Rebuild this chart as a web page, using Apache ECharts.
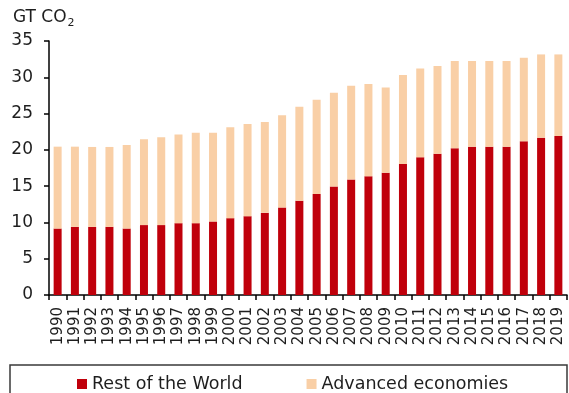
<!DOCTYPE html>
<html>
<head>
<meta charset="utf-8">
<script src="https://cdn.jsdelivr.net/npm/echarts@6/dist/echarts.min.js"></script>
<style>
  html, body { margin: 0; padding: 0; background: #fff; }
  #chart { width: 569px; height: 393px; }
</style>
</head>
<body>
<div id="chart"></div>
<script>
// Annual CO2 emissions, gigatonnes
const years = ['1990','1991','1992','1993','1994','1995','1996','1997','1998','1999',
  '2000','2001','2002','2003','2004','2005','2006','2007','2008','2009',
  '2010','2011','2012','2013','2014','2015','2016','2017','2018','2019'];

const restOfWorld = [9.16, 9.39, 9.39, 9.39, 9.16, 9.63, 9.63, 9.90, 9.90, 10.13,
  10.59, 10.86, 11.32, 12.05, 12.97, 13.93, 14.94, 15.90, 16.37, 16.86,
  18.06, 18.98, 19.48, 20.22, 20.44, 20.44, 20.44, 21.18, 21.68, 21.91];

const advanced = [11.28, 11.05, 11.01, 11.01, 11.51, 11.83, 12.10, 12.20, 12.47, 12.24,
  12.51, 12.70, 12.52, 12.71, 12.97, 12.98, 12.93, 12.93, 12.69, 11.74,
  12.24, 12.24, 12.06, 12.01, 11.79, 11.79, 11.79, 11.51, 11.47, 11.24];

const seriesNames = ['Rest of the World', 'Advanced economies'];
const yTicks = { min: 0, max: 35, step: 5 };

const FONT = 'DejaVu Sans';
const TEXT = '#1e1e1e';
const RED = '#C0000B';
const PEACH = '#F9CFA6';

const chart = echarts.init(document.getElementById('chart'), null, { renderer: 'canvas' });

chart.setOption({
  animation: false,
  backgroundColor: '#ffffff',
  textStyle: { fontFamily: FONT, color: TEXT },
  grid: { left: 49, right: 2, top: 41, bottom: 98, containLabel: false },
  graphic: [
    {
      type: 'text', left: 13, top: 9,
      style: {
        text: '{m|GT CO}{s|2}',
        rich: {
          m: { fontFamily: FONT, fontSize: 17, fill: TEXT, verticalAlign: 'bottom' },
          s: { fontFamily: FONT, fontSize: 11, fill: TEXT, padding: [0, 0, -3, 1], verticalAlign: 'bottom' }
        }
      }
    },
    {
      type: 'rect', z: 0,
      shape: { x: 10, y: 365, width: 557, height: 50 },
      style: { fill: 'none', stroke: '#3a3a3a', lineWidth: 1.5 }
    }
  ],
  legend: {
    left: 72, top: 370,
    itemWidth: 10, itemHeight: 10, itemGap: 64,
    icon: 'rect',
    textStyle: { fontFamily: FONT, fontSize: 17.5, color: TEXT },
    data: seriesNames
  },
  xAxis: {
    type: 'category',
    data: years,
    boundaryGap: true,
    axisLine: { lineStyle: { color: '#000', width: 1.5 } },
    axisTick: { show: true, alignWithLabel: false, interval: 0, length: 5, lineStyle: { color: '#000', width: 1.5 } },
    axisLabel: { interval: 0, rotate: 90, margin: 12, fontFamily: FONT, fontSize: 15, color: TEXT }
  },
  yAxis: {
    type: 'value',
    min: yTicks.min, max: yTicks.max, interval: yTicks.step,
    splitLine: { show: false },
    axisLine: { show: true, lineStyle: { color: '#000', width: 1.5 } },
    axisTick: { show: true, length: 5, lineStyle: { color: '#000', width: 1.5 } },
    axisLabel: { margin: 16, fontFamily: FONT, fontSize: 17, color: TEXT }
  },
  series: [
    {
      name: seriesNames[0], type: 'bar', stack: 'total',
      barWidth: 8,
      itemStyle: { color: RED },
      data: restOfWorld
    },
    {
      name: seriesNames[1], type: 'bar', stack: 'total',
      barWidth: 8,
      itemStyle: { color: PEACH },
      data: advanced
    }
  ]
});
</script>
</body>
</html>
